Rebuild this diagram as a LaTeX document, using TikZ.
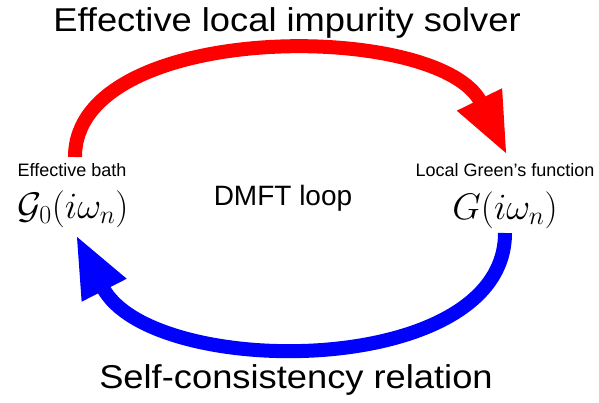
\documentclass[tikz,border=0pt]{standalone}
\usepackage{fix-cm}
\usepackage{fontspec}
\setsansfont{Liberation Sans}
\newfontfamily\titlefont[FakeStretch=1.1]{Liberation Sans}
\usetikzlibrary{arrows.meta}

\tikzset{
    loop arrow/.style={line width=14pt, -{Triangle[length=62pt,width=46pt]}},
    title/.style={font=\titlefont\fontsize{33}{33}\selectfont, inner sep=0pt, anchor=base},
    small label/.style={font=\sffamily\fontsize{18}{18}\selectfont, inner sep=0pt, anchor=base},
    fn label/.style={font=\fontsize{37}{37}\selectfont, inner sep=0pt, anchor=base}
}

\begin{document}
\begin{tikzpicture}[x=1pt, y=-1pt]
    \useasboundingbox (0,0) rectangle (599,402);
    % texts
    \node[title] (solver) at (287,31) {Effective local impurity solver};
    \node[title] (selfcons) at (296,388) {Self-consistency relation};
    \node[small label] (bath) at (72,176) {Effective bath};
    \node[small label] (green) at (505,176) {Local Green's function};
    \node[fn label] (bathfn) at (73,218) {$\mathcal{G}_0(i\omega_n)$};
    \node[fn label] (greenfn) at (505,219) {$G(i\omega_n)$};
    \node[small label, font=\sffamily\fontsize{28}{28}\selectfont] (loop) at (283,205) {DMFT loop};
    % ends of the two arrows
    \coordinate (redstart) at (75,157);
    \coordinate (redend) at (507,155);
    \coordinate (bluestart) at (505,233);
    \coordinate (blueend) at (76,235);
    % solver arrow
    \draw[loop arrow, red]
        (redstart) .. controls (75,20) and (440,20) .. (redend);
    % self-consistency arrow
    \draw[loop arrow, blue]
        (bluestart) .. controls (505,380) and (150,380) .. (blueend);
\end{tikzpicture}
\end{document}
